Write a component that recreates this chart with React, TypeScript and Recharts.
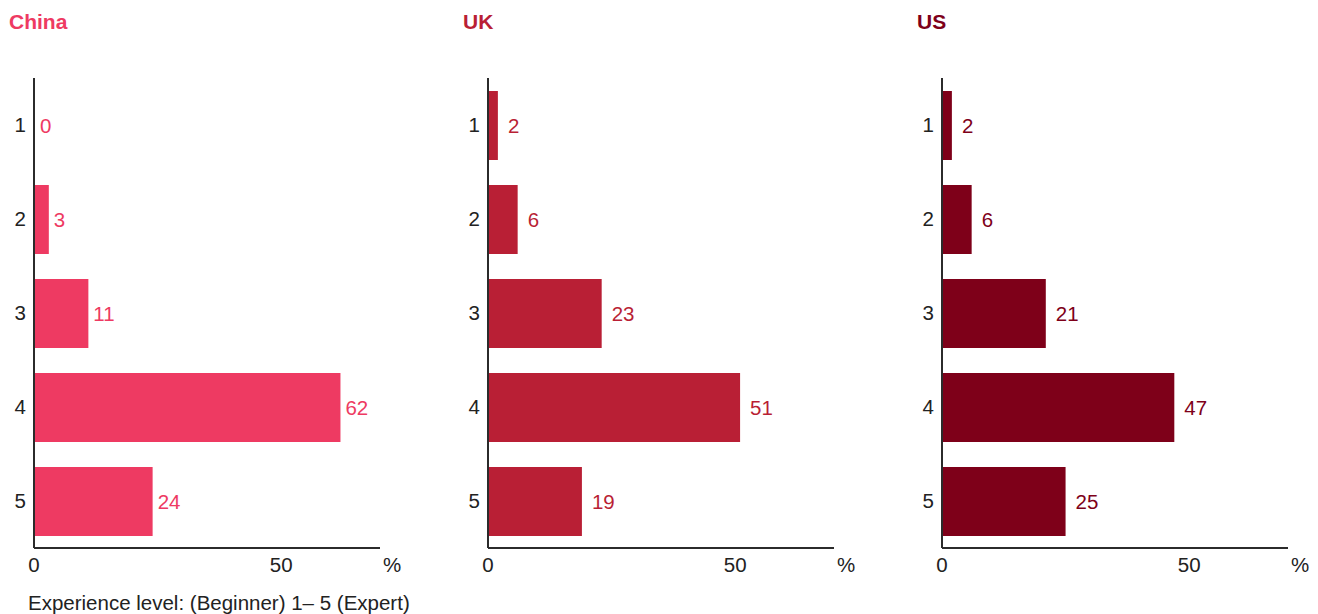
import React from "react";
import { BarChart, Bar, XAxis, YAxis, LabelList } from "recharts";

const levels = ["1", "2", "3", "4", "5"];
const chinaValues = [0, 3, 11, 62, 24];
const ukValues = [2, 6, 23, 51, 19];
const usValues = [2, 6, 21, 47, 25];
const xTicks = [0, 50, 70];
const panelTitles = ["China", "UK", "US"];
const panelColors = ["#EE3A62", "#B91F35", "#7E0019"];
const footerText = "Experience level: (Beginner) 1– 5 (Expert)";

const FONT = "'Liberation Sans', Arial, Helvetica, sans-serif";
const AXIS = "#2b2b2b";
const FS = 20.5;

const XTick = (props: any) => {
  const { x, y, payload } = props;
  const isPct = payload.value === 70;
  return (
    <text
      x={x + (isPct ? 12 : 0)}
      y={y + 16}
      textAnchor="middle"
      fontSize={FS}
      fontFamily={FONT}
      fill="#222"
    >
      {isPct ? "%" : payload.value}
    </text>
  );
};

function Panel({ values, color, title, left, labelOffset }: any) {
  const data = levels.map((l, i) => ({ level: l, value: values[i] }));
  return (
    <div style={{ position: "absolute", left, top: 0, width: 440, height: 614 }}>
      <div
        style={{
          position: "absolute",
          left: 9,
          top: 10,
          fontFamily: FONT,
          fontWeight: "bold",
          fontSize: 21,
          color,
        }}
      >
        {title}
      </div>
      <BarChart
        width={440}
        height={614}
        data={data}
        layout="vertical"
        margin={{ top: 78, right: 60, bottom: 0, left: 0 }}
      >
        <XAxis
          type="number"
          domain={[0, 70]}
          ticks={xTicks}
          tickLine={false}
          axisLine={{ stroke: AXIS, strokeWidth: 2 }}
          tick={<XTick />}
          height={66}
        />
        <YAxis
          type="category"
          dataKey="level"
          width={34}
          tickLine={false}
          axisLine={{ stroke: AXIS, strokeWidth: 2 }}
          tick={{ fontSize: FS, fontFamily: FONT, fill: "#222" }}
        />
        <Bar dataKey="value" fill={color} barSize={69} minPointSize={1} isAnimationActive={false}>
          <LabelList
            dataKey="value"
            position="right"
            offset={labelOffset}
            fill={color}
            fontSize={FS}
            fontFamily={FONT}
          />
        </Bar>
      </BarChart>
    </div>
  );
}

export default function App() {
  return (
    <div
      style={{
        position: "absolute",
        left: 0,
        top: 0,
        width: 1318,
        height: 614,
        background: "#fff",
        overflow: "hidden",
      }}
    >
      <Panel values={chinaValues} color={panelColors[0]} title={panelTitles[0]} left={0} labelOffset={5} />
      <Panel values={ukValues} color={panelColors[1]} title={panelTitles[1]} left={454} labelOffset={10} />
      <Panel values={usValues} color={panelColors[2]} title={panelTitles[2]} left={908} labelOffset={10} />
      <div
        style={{
          position: "absolute",
          left: 28,
          top: 591,
          fontFamily: FONT,
          fontSize: FS,
          color: "#222",
          whiteSpace: "nowrap",
        }}
      >
        {footerText}
      </div>
    </div>
  );
}
